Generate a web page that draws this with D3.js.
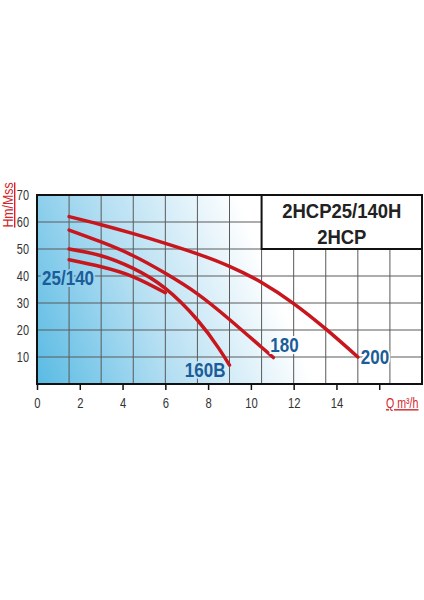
<!DOCTYPE html>
<html>
<head>
<meta charset="utf-8">
<script src="https://cdn.jsdelivr.net/npm/d3@7"></script>
<style>
  body { margin: 0; background: #fff; }
  svg { display: block; }
  .tick text { font-family: "Liberation Sans", Arial, sans-serif; fill: #333; }
</style>
</head>
<body>
<svg width="424" height="600"></svg>
<script>
// pump curves: flow Q (m3/h) and head H (m)
const q200 = [1.5, 3, 4.5, 6, 7.5, 9, 10.5, 12, 13.5, 15];
const h200 = [62, 59, 55.7, 52.1, 48.2, 43.6, 37.6, 29.8, 20.4, 10];
const q180 = [1.5, 3, 4.5, 6, 7.5, 9, 10.5, 11.05];
const h180 = [57, 52.6, 47.5, 41, 33.4, 23.9, 13.6, 9.8];
const q160 = [1.5, 3, 4.5, 6, 7.5, 8.5, 9];
const h160 = [50, 47.5, 42.8, 35.4, 23.7, 13.2, 7];
const q140 = [1.5, 3, 4.5, 6];
const h140 = [46, 43.4, 39.7, 33.8];

const curveNames = ['200', '180', '160B', '25/140'];
const xTicks = [0, 2, 4, 6, 8, 10, 12, 14, 16];
const xLabels = ['0', '2', '4', '6', '8', '10', '12', '14', ''];
const yTicks = [10, 20, 30, 40, 50, 60, 70];
const titleLines = ['2HCP25/140H', '2HCP'];
const xTitle = 'Q m³/h';
const yTitle = 'Hm/Mss';

const series = [
    { name: curveNames[0], q: q200, h: h200 },
    { name: curveNames[1], q: q180, h: h180 },
    { name: curveNames[2], q: q160, h: h160 },
    { name: curveNames[3], q: q140, h: h140 }
];

const svg = d3.select('svg');
const margin = { top: 195, left: 37 };
const width = 385;
const height = 189;
const font = '"Liberation Sans", Arial, sans-serif';
const red = '#c8161d';
const blue = '#1c5c98';

// no narrow font installed, so squeeze the glyphs to look condensed
function condense(sel, k) {
    sel.each(function() {
        const w = this.getComputedTextLength();
        d3.select(this)
            .attr('textLength', w * k)
            .attr('lengthAdjust', 'spacingAndGlyphs');
    });
}

const x = d3.scaleLinear().domain([0, 18]).range([margin.left, margin.left + width]);
const y = d3.scaleLinear().domain([0, 70]).range([margin.top + height, margin.top]);

// background gradient (user space so the label halos can reuse it)
const grad = svg.append('defs')
    .append('linearGradient')
    .attr('id', 'bg')
    .attr('gradientUnits', 'userSpaceOnUse')
    .attr('x1', 37).attr('y1', 400)
    .attr('x2', 280).attr('y2', 300);
grad.append('stop').attr('offset', 0).attr('stop-color', '#55b9e3');
grad.append('stop').attr('offset', 0.5).attr('stop-color', '#b3def2');
grad.append('stop').attr('offset', 1).attr('stop-color', '#ffffff');

svg.append('rect')
    .attr('x', x(0)).attr('y', y(70))
    .attr('width', width).attr('height', height)
    .attr('fill', 'url(#bg)');

// grid
const grid = svg.append('g').attr('stroke', '#5a5a5a').attr('stroke-width', 1);
grid.selectAll('line.v')
    .data(d3.range(1.5, 18, 1.5))
    .enter().append('line')
    .attr('x1', d => x(d)).attr('x2', d => x(d))
    .attr('y1', y(0)).attr('y2', y(70));
grid.selectAll('line.h')
    .data(d3.range(10, 70, 10))
    .enter().append('line')
    .attr('x1', x(0)).attr('x2', x(18))
    .attr('y1', d => y(d)).attr('y2', d => y(d));

// title box
svg.append('rect')
    .attr('x', x(10.5)).attr('y', y(70))
    .attr('width', x(18) - x(10.5)).attr('height', y(50) - y(70))
    .attr('fill', '#fff')
    .attr('stroke', '#111')
    .attr('stroke-width', 2);

svg.append('g')
    .selectAll('text')
    .data(titleLines)
    .enter().append('text')
    .attr('x', (x(10.5) + x(18)) / 2)
    .attr('y', (d, i) => 218 + i * 26)
    .attr('text-anchor', 'middle')
    .style('font-family', font)
    .style('font-weight', 'bold')
    .style('font-size', '21px')
    .style('fill', '#222')
    .text(d => d)
    .call(condense, 0.88);

// frame
svg.append('rect')
    .attr('x', x(0)).attr('y', y(70))
    .attr('width', width).attr('height', height)
    .attr('fill', 'none')
    .attr('stroke', '#111')
    .attr('stroke-width', 2);

// axes
svg.append('g')
    .attr('transform', `translate(0,${y(0)})`)
    .call(d3.axisBottom(x).tickValues(xTicks).tickSize(6).tickPadding(7)
        .tickFormat((d, i) => xLabels[i]))
    .call(g => g.select('.domain').remove())
    .call(g => g.selectAll('.tick line').attr('stroke', '#111').attr('stroke-width', 1.5))
    .call(g => g.selectAll('.tick text').style('font-size', '15px').call(condense, 0.75));

svg.append('g')
    .attr('transform', `translate(${x(0)},0)`)
    .call(d3.axisLeft(y).tickValues(yTicks).tickSize(0).tickPadding(8))
    .call(g => g.select('.domain').remove())
    .call(g => g.selectAll('.tick text').style('font-size', '14px').call(condense, 0.78));

// axis titles
svg.append('text')
    .attr('transform', 'translate(13,205) rotate(-90)')
    .attr('text-anchor', 'middle')
    .style('font-family', font)
    .style('font-size', '14px')
    .style('fill', '#d3262b')
    .style('text-decoration', 'underline')
    .text(yTitle)
    .call(condense, 0.88);

svg.append('text')
    .attr('transform', 'translate(386,408) scale(0.76,1)')
    .style('font-family', font)
    .style('font-size', '14px')
    .style('fill', '#d3262b')
    .style('text-decoration', 'underline')
    .text(xTitle);

// curves
const line = d3.line()
    .x(d => x(d[0]))
    .y(d => y(d[1]))
    .curve(d3.curveNatural);

svg.append('g')
    .selectAll('path')
    .data(series)
    .enter().append('path')
    .attr('d', s => line(s.q.map((q, i) => [q, s.h[i]])))
    .attr('fill', 'none')
    .attr('stroke', red)
    .attr('stroke-width', 3.5)
    .attr('stroke-linecap', 'round');

// curve labels, placed next to the end (or start) of each curve
const labelPlace = {
    '200': { end: true, dx: 3, dy: 7, anchor: 'start' },
    '180': { end: true, dx: -3, dy: -6, anchor: 'start' },
    '160B': { end: true, dx: -4, dy: 12, anchor: 'end' },
    '25/140': { end: false, dx: -27, dy: 25, anchor: 'start' }
};

svg.append('g')
    .selectAll('text')
    .data(series)
    .enter().append('text')
    .each(function(s) {
        const p = labelPlace[s.name];
        const k = p.end ? s.q.length - 1 : 0;
        d3.select(this)
            .attr('x', x(s.q[k]) + p.dx)
            .attr('y', y(s.h[k]) + p.dy)
            .attr('text-anchor', p.anchor);
    })
    .style('font-family', font)
    .style('font-weight', 'bold')
    .style('font-size', '20px')
    .style('fill', blue)
    .style('stroke', 'url(#bg)')
    .style('stroke-width', 4)
    .style('paint-order', 'stroke')
    .text(s => s.name)
    .call(condense, 0.85);
</script>
</body>
</html>
